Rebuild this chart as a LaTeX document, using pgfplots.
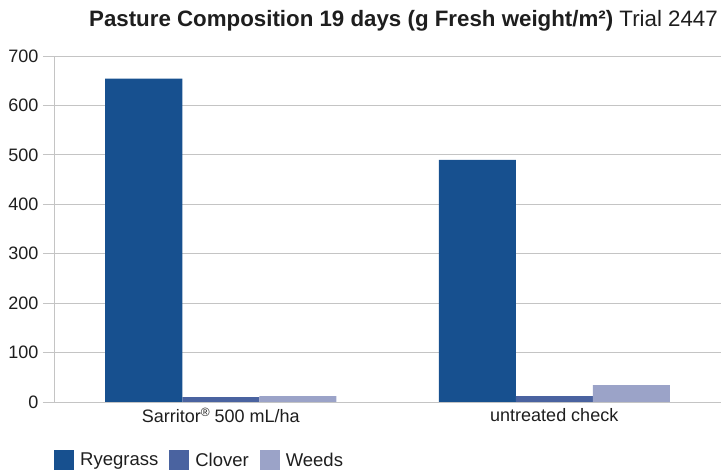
\documentclass[border=0pt]{standalone}
\usepackage{pgfplots}
\pgfplotsset{compat=1.18}
\usepackage{fontspec}
\setmainfont{Liberation Sans}
\definecolor{rye}{HTML}{17508F}
\definecolor{clo}{HTML}{4A63A0}
\definecolor{wee}{HTML}{9BA3C8}
\definecolor{gridc}{HTML}{C4C4C4}
\definecolor{txt}{HTML}{1E1E1E}
\begin{document}
\begin{tikzpicture}
\useasboundingbox (0,0) rectangle (721pt,473pt);
\begin{axis}[
  at={(54pt,71pt)}, anchor=south west,
  scale only axis, width=667pt, height=346pt,
  ybar=0pt, bar width=77pt,
  xmin=-0.5, xmax=1.5, ymin=0, ymax=700,
  enlargelimits=false,
  xtick={0,1}, xticklabels={Sarritor\raisebox{0.6ex}{\fontsize{12}{12}\selectfont ®} 500 mL/ha, untreated check},
  extra x ticks={0.5}, extra x tick labels={},
  extra x tick style={major tick length=14pt, tick style={draw=gridc, line width=0.9pt}, grid=none},
  ytick={0,100,...,700},
  ymajorgrids, grid style={draw=gridc, line width=0.9pt},
  major tick length=11pt,
  tick align=outside,
  x tick style={draw=none},
  y tick style={draw=gridc, line width=0.9pt},
  axis x line*=bottom, axis y line*=left,
  axis line style={draw=gridc, line width=0.9pt, -},
  separate axis lines,
  x axis line style={shorten <=-11pt},
  /pgf/number format/assume math mode=true,
  ticklabel style={font=\fontsize{18}{20}\selectfont, text=txt},
  yticklabel style={xshift=-1pt},
  xticklabel style={yshift=8pt},
  legend style={at={(0,-0.139)}, anchor=north west, draw=none, fill=none,
    font=\fontsize{18.5}{20}\selectfont, text=txt, inner sep=0pt,
    /tikz/every odd column/.append style={column sep=4pt},
    /tikz/every even column/.append style={column sep=9pt}},
  legend columns=-1,
  legend image code/.code={\fill[#1] (0pt,-10pt) rectangle (20pt,10pt);},
]
\addplot[fill=rye, draw=none] coordinates {(0,654) (1,490)};
\addplot[fill=clo, draw=none] coordinates {(0,10) (1,12)};
\addplot[fill=wee, draw=none] coordinates {(0,12) (1,34)};
\legend{Ryegrass, Clover, Weeds}
\end{axis}
\node[anchor=base east, text=txt, font=\fontsize{22.3}{24}\selectfont, inner sep=0pt] at (718pt,446pt) {\textbf{Pasture Composition 19 days (g Fresh weight/m²)} Trial 2447};
\end{tikzpicture}
\end{document}
